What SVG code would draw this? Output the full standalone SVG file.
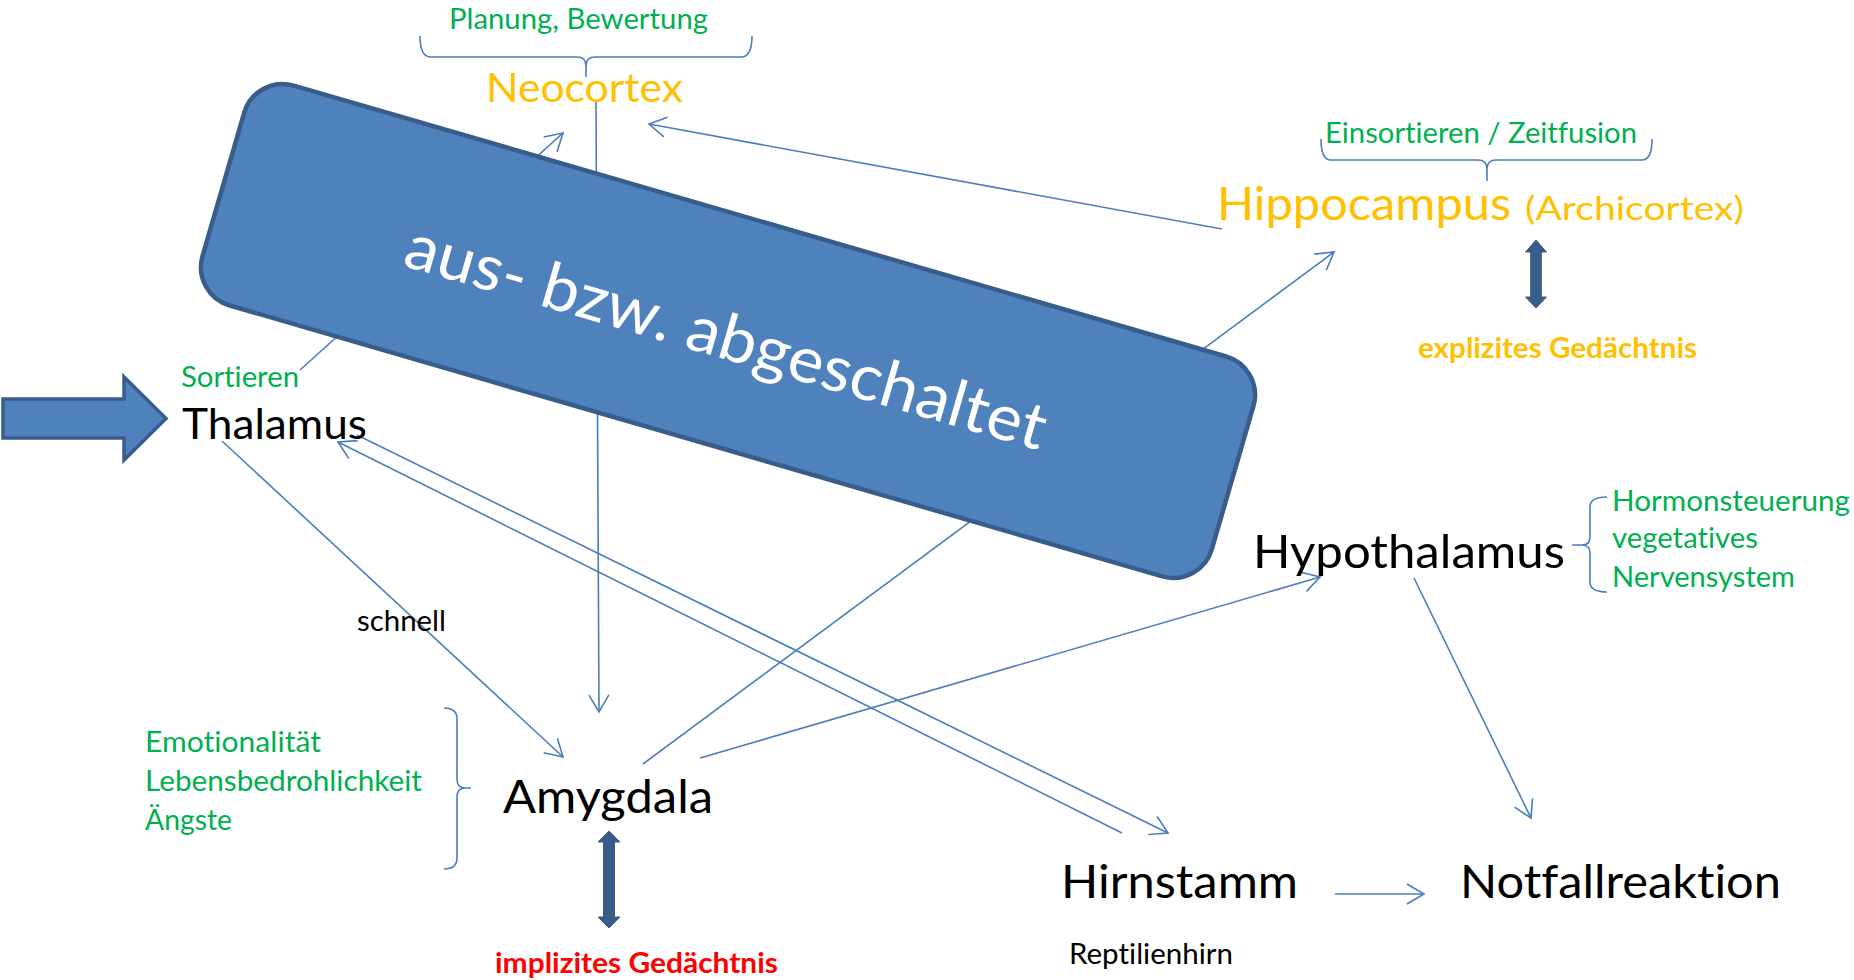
<svg xmlns="http://www.w3.org/2000/svg" width="1854" height="980" viewBox="0 0 1854 980">
<style>
text{font-family:Lato,"Liberation Sans",sans-serif;font-variant-ligatures:none;}
.g{fill:#00B050;font-size:28px;}
.o{fill:#FFC000;}
.k{fill:#000000;}
.big{font-size:47px;}
.mid{font-size:41px;}
.small{font-size:28px;}
.bold{font-size:28px;font-weight:bold;}
.conn line{stroke:#4A7EBB;stroke-width:1.6;fill:none;}
.brace{stroke:#4A7EBB;stroke-width:1.6;fill:none;}
.thick{fill:#385D8A;stroke:#385D8A;stroke-width:1;}
</style>
<defs>
<marker id="ah" markerUnits="userSpaceOnUse" markerWidth="24" markerHeight="24" viewBox="-20 -12 24 24" refX="0" refY="0" orient="auto">
<path d="M-17,-10 L0,0 L-17,10" fill="none" stroke="#4A7EBB" stroke-width="1.6"/>
</marker>
</defs>
<rect width="1854" height="980" fill="#ffffff"/>

<g id="connectors" class="conn">
<line x1="300" y1="370" x2="563" y2="133" marker-end="url(#ah)"/>
<line x1="596" y1="102" x2="599" y2="712" marker-end="url(#ah)"/>
<line x1="1222" y1="229" x2="649" y2="124" marker-end="url(#ah)"/>
<line x1="643" y1="764" x2="1334" y2="252" marker-end="url(#ah)"/>
<line x1="222" y1="441" x2="563" y2="757" marker-end="url(#ah)"/>
<line x1="1122" y1="833" x2="338" y2="442" marker-end="url(#ah)"/>
<line x1="357" y1="435" x2="1168" y2="833" marker-end="url(#ah)"/>
<line x1="700" y1="758" x2="1320" y2="577" marker-end="url(#ah)"/>
<line x1="1414" y1="578" x2="1531" y2="818" marker-end="url(#ah)"/>
<line x1="1335" y1="894" x2="1424" y2="894" marker-end="url(#ah)"/>
</g>

<g id="input-arrow">
<polygon points="3,399 124,399 124,377 166,418.5 124,460 124,438 3,438" fill="#4F81BD" stroke="#385D8A" stroke-width="3.5"/>
</g>

<g id="neocortex">
<text class="g" x="449" y="29" textLength="259" lengthAdjust="spacingAndGlyphs">Planung, Bewertung</text>
<path class="brace" d="M420,36 Q420,57 431,57 L577,57 Q586,57 586,66 L586,77 M586,66 Q586,57 595,57 L741,57 Q752,57 752,36"/>
<text class="o mid" x="486" y="102" textLength="197" lengthAdjust="spacingAndGlyphs">Neocortex</text>
</g>

<g id="hippocampus">
<text class="g" x="1325" y="143" textLength="312" lengthAdjust="spacingAndGlyphs">Einsortieren / Zeitfusion</text>
<path class="brace" d="M1321,139 Q1321,160 1331,160 L1478,160 Q1487,160 1487,169 L1487,181 M1487,169 Q1487,160 1496,160 L1642,160 Q1652,160 1652,139"/>
<text class="o big" x="1217" y="220" textLength="294" lengthAdjust="spacingAndGlyphs">Hippocampus</text>
<text class="o" style="font-size:33px" x="1525" y="220" textLength="219" lengthAdjust="spacingAndGlyphs">(Archicortex)</text>
<polygon class="thick" points="1536,240 1546.5,252 1541.3,252 1541.3,297 1546.5,297 1536,308 1525.5,297 1530.7,297 1530.7,252 1525.5,252"/>
<text class="o bold" x="1418" y="358" textLength="279" lengthAdjust="spacingAndGlyphs">explizites Gedächtnis</text>
</g>

<g id="thalamus">
<text class="g" x="181" y="387" textLength="118" lengthAdjust="spacingAndGlyphs">Sortieren</text>
<text class="k" style="font-size:42px" x="182" y="439" textLength="185" lengthAdjust="spacingAndGlyphs">Thalamus</text>
</g>

<g id="schnell-label">
<text class="k small" x="357" y="631" textLength="89" lengthAdjust="spacingAndGlyphs">schnell</text>
</g>

<g id="amygdala">
<text class="g" x="145" y="752" textLength="176" lengthAdjust="spacingAndGlyphs">Emotionalität</text>
<text class="g" x="145" y="791" textLength="277" lengthAdjust="spacingAndGlyphs">Lebensbedrohlichkeit</text>
<text class="g" x="145" y="830" textLength="87" lengthAdjust="spacingAndGlyphs">Ängste</text>
<path class="brace" d="M444,708 Q457,708 457,719 L457,779 Q457,788 465,788 L471,788 M465,788 Q457,788 457,797 L457,858 Q457,869 444,869"/>
<text class="k big" x="503" y="813" textLength="210" lengthAdjust="spacingAndGlyphs">Amygdala</text>
<polygon class="thick" points="609,831 620,842 614.5,842 614.5,917 620,917 609,928 598,917 603.5,917 603.5,842 598,842"/>
<text class="bold" fill="#FF0000" x="495" y="973" textLength="283" lengthAdjust="spacingAndGlyphs">implizites Gedächtnis</text>
</g>

<g id="hypothalamus">
<text class="k big" x="1253" y="568" textLength="312" lengthAdjust="spacingAndGlyphs">Hypothalamus</text>
<path class="brace" d="M1607,497 Q1590,497 1590,507 L1590,537 Q1590,545 1582,545 L1572,545 M1582,545 Q1590,545 1590,553 L1590,582 Q1590,592 1607,592"/>
<text class="g" x="1612" y="511" textLength="238" lengthAdjust="spacingAndGlyphs">Hormonsteuerung</text>
<text class="g" x="1612" y="548" textLength="146" lengthAdjust="spacingAndGlyphs">vegetatives</text>
<text class="g" x="1612" y="587" textLength="183" lengthAdjust="spacingAndGlyphs">Nervensystem</text>
</g>

<g id="hirnstamm">
<text class="k big" x="1061" y="898" textLength="237" lengthAdjust="spacingAndGlyphs">Hirnstamm</text>
<text class="k small" x="1069" y="964" textLength="164" lengthAdjust="spacingAndGlyphs">Reptilienhirn</text>
</g>

<g id="notfallreaktion">
<text class="k big" x="1460" y="898" textLength="321" lengthAdjust="spacingAndGlyphs">Notfallreaktion</text>
</g>

<g id="abgeschaltet" transform="translate(728,331) rotate(16.2)">
<rect x="-525.5" y="-114.5" width="1051" height="229" rx="40" ry="40" fill="#4F81BD" stroke="#385D8A" stroke-width="4.5"/>
<text x="-332" y="28" fill="#ffffff" style="font-size:64px" textLength="664" lengthAdjust="spacingAndGlyphs">aus- bzw. abgeschaltet</text>
</g>
</svg>
